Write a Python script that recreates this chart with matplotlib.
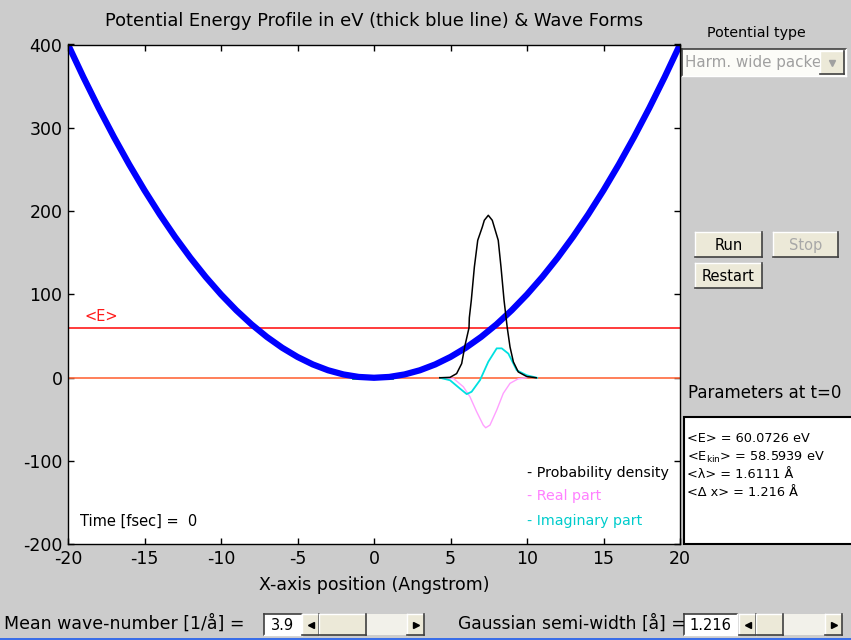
#!/usr/bin/env python3

import matplotlib
matplotlib.use('Agg')
import matplotlib.pyplot as plt
from matplotlib.patches import Rectangle

# Harmonic potential (eV) sampled along the x axis (Angstrom)
x_pot = [-20, -19, -18, -17, -16, -15, -14, -13, -12, -11, -10, -9, -8, -7,
         -6, -5, -4, -3, -2, -1, 0, 1, 2, 3, 4, 5, 6, 7, 8, 9, 10, 11, 12,
         13, 14, 15, 16, 17, 18, 19, 20]
v_pot = [400, 361, 324, 289, 256, 225, 196, 169, 144, 121, 100, 81, 64, 49,
         36, 25, 16, 9, 4, 1, 0, 1, 4, 9, 16, 25, 36, 49, 64, 81, 100, 121,
         144, 169, 196, 225, 256, 289, 324, 361, 400]

mean_energy = 60.0726

# Wave packet at t=0
x_dens = [4.3, 4.97, 5.40, 5.73, 5.95, 6.21, 6.23, 6.36, 6.56, 6.78, 7.08,
          7.21, 7.47, 7.73, 7.86, 8.12, 8.30, 8.50, 8.71, 8.89, 9.11, 9.43,
          9.98, 10.6]
y_dens = [0, 0.5, 5, 17, 39, 60, 72, 93, 133, 165, 181, 189, 195, 189, 181,
          165, 133, 93, 60, 37, 19, 7, 1.5, 0]

x_real = [4.53, 5.19, 5.84, 6.27, 6.71, 7.14, 7.30, 7.58, 8.02, 8.45, 8.89,
          9.43, 9.98]
y_real = [0, -0.8, -10.8, -22.8, -40.8, -56.8, -60, -56.8, -38.8, -18.7,
          -6.7, -1.2, 0]

x_imag = [4.31, 4.97, 5.62, 6.06, 6.38, 6.93, 7.47, 8.02, 8.35, 8.78, 9.0,
          9.33, 9.98, 10.65]
y_imag = [0, -3, -13, -19.6, -16.8, -2.8, 19.2, 35.3, 35.3, 29, 21, 9, 3, 0]

green_x = [-1.4, 1.2]
green_y = [0, 0]

x_ticks = [-20, -15, -10, -5, 0, 5, 10, 15, 20]
y_ticks = [-200, -100, 0, 100, 200, 300, 400]

params = ['<E> = 60.0726 eV',
          r'<E$_{\mathrm{kin}}$> = 58.5939 eV',
          '<λ> = 1.6111 Å',
          '<Δ x> = 1.216 Å']

BG = '#cccccc'
FACE = '#ece9d8'

plt.rcParams['font.family'] = 'DejaVu Sans'
plt.rcParams['mathtext.fontset'] = 'dejavusans'
plt.rcParams['axes.unicode_minus'] = False

fig = plt.figure(figsize=(8.51, 6.4), dpi=100, facecolor=BG)

# ---- main plot ----
ax = fig.add_axes([68 / 851, 1 - 544.4 / 640, 612 / 851, 499.9 / 640], zorder=2)
ax.plot([-20, 20], [0, 0], color='#ff6a3d', lw=1.2)
ax.plot([-20, 20], [mean_energy, mean_energy], color='#ff1a1a', lw=1.2)
ax.plot(green_x, green_y, color='#00a040', lw=2)
ax.plot(x_pot, v_pot, color='#0000ff', lw=4.5, solid_capstyle='round')
ax.plot(x_real, y_real, color='#ffa0ff', lw=1)
ax.plot(x_imag, y_imag, color='#00e0e0', lw=1.3)
ax.plot(x_dens, y_dens, color='black', lw=1.1)

ax.set_xlim(-20, 20)
ax.set_ylim(-200, 400)
ax.set_xticks(x_ticks)
ax.set_yticks(y_ticks)
ax.tick_params(direction='in', length=4, width=1, top=True, right=True,
               labelsize=12.5, pad=4)
for s in ax.spines.values():
    s.set_linewidth(1)
ax.set_title('Potential Energy Profile in eV (thick blue line) & Wave Forms',
             fontsize=12.9, pad=13)
ax.set_xlabel('X-axis position (Angstrom)', fontsize=12.5, labelpad=6)

ax.text(-18.95, 74, '<E>', color='#ff1a1a', fontsize=10.5, va='center')
ax.text(-19.2, -172, 'Time [fsec] =  0', fontsize=10.5, va='center')
ax.text(10.0, -114, '- Probability density', fontsize=10.3, va='center')
ax.text(10.0, -142, '- Real part', color='#ff80ff', fontsize=10.3, va='center')
ax.text(10.0, -172, '- Imaginary part', color='#00cccc', fontsize=10.3,
        va='center')

# ---- controls, drawn in pixel coordinates ----
ui = fig.add_axes([0, 0, 1, 1], zorder=1)
ui.set_xlim(0, 851)
ui.set_ylim(640, 0)
ui.axis('off')


def raised(x0, y0, x1, y1, face=FACE, z=2):
    ui.add_patch(Rectangle((x0, y0), x1 - x0, y1 - y0, fc=face, ec='none',
                           zorder=z))
    ui.plot([x0, x1], [y0, y0], color='white', lw=1, zorder=z)
    ui.plot([x0, x0], [y0, y1], color='white', lw=1, zorder=z)
    ui.plot([x0, x1], [y1, y1], color='#404040', lw=1.2, zorder=z)
    ui.plot([x1, x1], [y0, y1], color='#404040', lw=1.2, zorder=z)


def sunken(x0, y0, x1, y1, face='white'):
    ui.add_patch(Rectangle((x0, y0), x1 - x0, y1 - y0, fc=face, ec='none',
                           zorder=1))
    ui.plot([x0, x1], [y0, y0], color='#404040', lw=1.2, zorder=1)
    ui.plot([x0, x0], [y0, y1], color='#404040', lw=1.2, zorder=1)
    ui.plot([x0, x1], [y1, y1], color='white', lw=1, zorder=1)
    ui.plot([x1, x1], [y0, y1], color='white', lw=1, zorder=1)


def button(x0, y0, x1, y1, label, color='black'):
    raised(x0, y0, x1, y1)
    ui.text((x0 + x1) / 2, (y0 + y1) / 2 + 1, label, ha='center',
            va='center', fontsize=10.5, color=color, zorder=3)


def slider(x0, x1, y0, y1, t0, t1):
    ui.add_patch(Rectangle((x0, y0), x1 - x0, y1 - y0, fc='#f2f1ea',
                           ec='none', zorder=1))
    aw = 17
    raised(x0, y0, x0 + aw, y1)
    raised(x1 - aw, y0, x1, y1)
    raised(t0, y0, t1, y1)
    yc = (y0 + y1) / 2
    ui.plot(x0 + aw / 2, yc, marker='<', ms=4, color='black', zorder=3)
    ui.plot(x1 - aw / 2, yc, marker='>', ms=4, color='black', zorder=3)


# potential selector
ui.text(756, 33, 'Potential type', ha='center', va='center', fontsize=10.3)
sunken(682, 49, 846, 76, face='#fcfcf8')
ui.text(685, 63, 'Harm. wide packet', va='center', fontsize=10.9,
        color='#a0a0a0', zorder=1.5)
raised(820, 51, 844, 74)
ui.plot(832, 62.5, marker='v', ms=5, color='#a0a0a0', zorder=3)

button(695, 232, 762, 257, 'Run')
button(773, 232, 838, 257, 'Stop', color='#a8a8a8')
button(695, 263, 762, 288, 'Restart')

# parameter readout
ui.text(765, 393, 'Parameters at t=0', ha='center', va='center',
        fontsize=12)
ui.add_patch(Rectangle((684, 417), 180, 127, fc='white', ec='black', lw=1.5))
for i, line in enumerate(params):
    ui.text(687, 439 + i * 18, line, va='center', fontsize=9.3)

# sliders for the packet parameters
ui.text(4, 624, 'Mean wave-number [1/å] =', va='center', fontsize=12.5)
sunken(264, 614, 302, 635)
ui.text(283, 625, '3.9', ha='center', va='center', fontsize=10.5, zorder=3)
slider(302, 424, 614, 635, 319, 366)

ui.text(458, 624, 'Gaussian semi-width [å] =', va='center', fontsize=12.3)
sunken(684, 614, 737, 635)
ui.text(710, 625, '1.216', ha='center', va='center', fontsize=10.5, zorder=3)
slider(739, 842, 614, 635, 756, 783)

ui.add_patch(Rectangle((0, 637.5), 851, 3, fc='#3a6ee8', ec='none'))

plt.savefig('out.png', dpi=100, facecolor=BG)
